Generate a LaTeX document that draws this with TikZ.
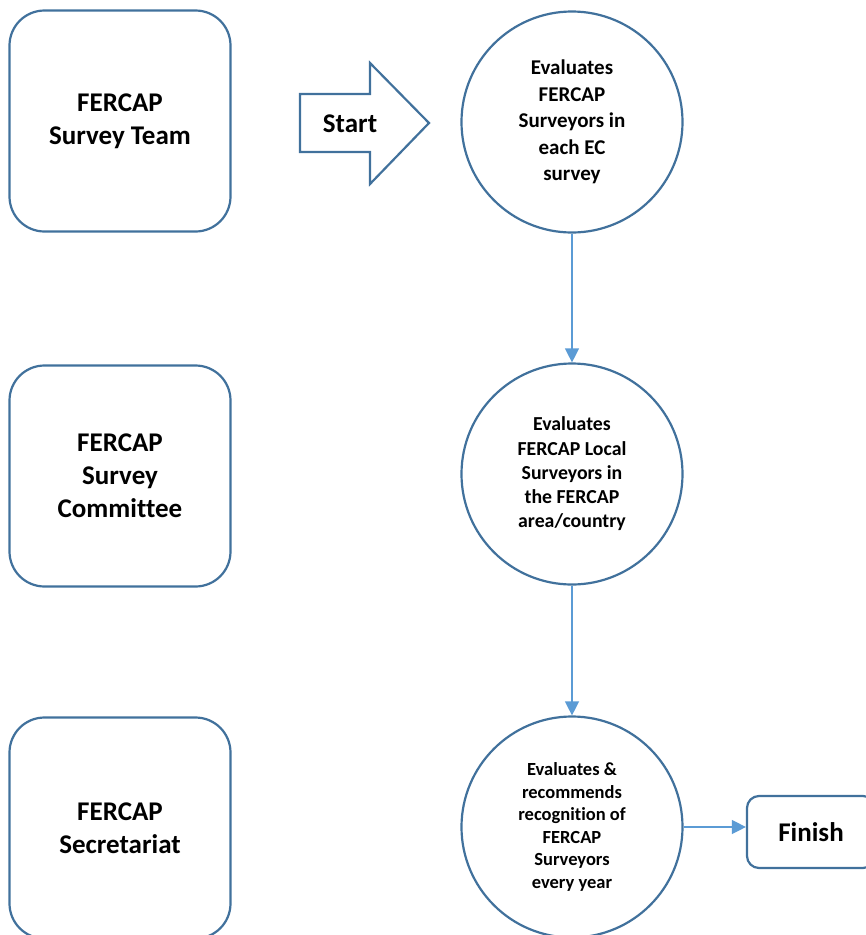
\documentclass[tikz,border=0pt]{standalone}
\usepackage{fontspec}
\setmainfont{Carlito}[Ligatures=NoCommon]
\usetikzlibrary{arrows.meta}
\definecolor{outline}{HTML}{41719C}
\definecolor{link}{HTML}{5B9BD5}

\begin{document}
\begin{tikzpicture}
	[x=1pt,y=-1pt,
	 actor/.style={draw=outline,line width=2.2pt,rounded corners=35pt,minimum width=221pt,minimum height=221pt,align=center,font=\fontsize{27}{33}\selectfont\bfseries},
	 task/.style={circle,draw=outline,line width=2.2pt,minimum size=221pt,inner sep=0pt,align=center},
	 flow/.style={-{Triangle[length=14pt,width=14pt]},draw=link,line width=1.3pt}]
	\useasboundingbox (0,0) rectangle (866,935);
	\clip (0,0) rectangle (866,935);

	\node[actor] (team) at (120,121) {FERCAP\\Survey Team};
	\node[actor] (comm) at (120,476) {FERCAP\\Survey\\Committee};
	\node[actor] (secr) at (120,828) {FERCAP\\Secretariat};

	\draw[outline,line width=2.2pt] (300,94) -- (370,94) -- (370,63) -- (429,123) -- (370,184) -- (370,152) -- (300,152) -- cycle;
	\node[font=\fontsize{27}{33}\selectfont\bfseries] (start) at (350,124) {Start};

	\node[task,font=\fontsize{21}{26.5}\selectfont\bfseries] (c1) at (572,122) {Evaluates\\FERCAP\\Surveyors in\\each EC\\survey};
	\node[task,font=\fontsize{19.8}{24.3}\selectfont\bfseries] (c2) at (572,474) {Evaluates\\FERCAP Local\\Surveyors in\\the FERCAP\\area/country};
	\node[task,font=\fontsize{18.5}{22.6}\selectfont\bfseries] (c3) at (572,827) {Evaluates \&\\recommends\\recognition of\\FERCAP\\Surveyors\\every year};

	\node[draw=outline,line width=2.2pt,rounded corners=12pt,minimum width=128pt,minimum height=72pt,font=\fontsize{27}{33}\selectfont\bfseries] (finish) at (811,832) {Finish};

	\foreach \from/\to in {c1/c2,c2/c3}
		\draw[flow] (\from) -- (\to);
	\draw[flow] (c3) -- (c3 -| finish.west);
\end{tikzpicture}
\end{document}
